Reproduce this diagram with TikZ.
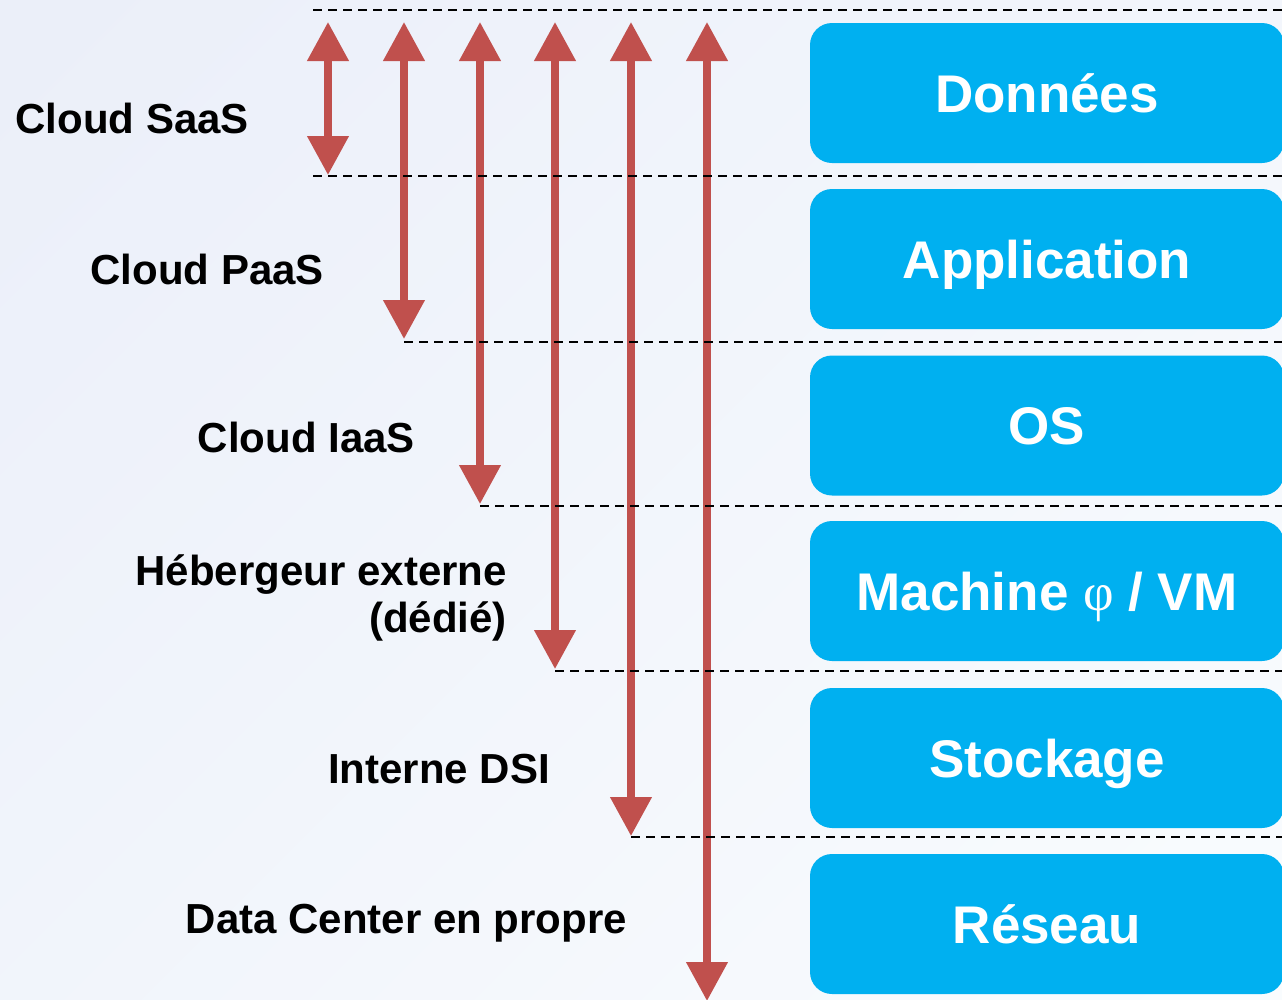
\documentclass[tikz,border=0pt]{standalone}
\usepackage{fontspec}
\setmainfont{Liberation Sans}
\newfontfamily\phifont{Liberation Serif}
\usetikzlibrary{arrows.meta}
\definecolor{bgA}{HTML}{EBEFF9}
\definecolor{bgB}{HTML}{F9FCFE}
\definecolor{layerblue}{HTML}{00B0F0}
\definecolor{arrowred}{HTML}{C0504D}
\tikzset{
  layer/.style={fill=layerblue, rounded corners=22pt, minimum width=474pt,
    minimum height=140pt, inner sep=0pt, text=white,
    font=\fontsize{53}{53}\selectfont\bfseries, text height=38pt, text depth=0pt},
  lbl/.style={font=\fontsize{42}{42}\selectfont\bfseries, anchor=base east,
    inner sep=0pt, text=black},
  span/.style={draw=arrowred, line width=7.5pt,
    {Triangle[width=40pt,length=39pt]}-{Triangle[width=40pt,length=39pt]}},
  guide/.style={draw=black, line width=1.75pt, dash pattern=on 9pt off 6pt}
}
\begin{document}
\begin{tikzpicture}[x=1pt,y=-1pt]
\useasboundingbox (0,0) rectangle (1282,999);
\clip (0,0) rectangle (1282,999);
\shade[top color=bgA, bottom color=bgB, shading angle=45] (-200,-200) rectangle (1482,1199);

% layer boxes
\node[layer] (donnees) at (1047,93) {Données};
\node[layer] (appli) at (1047,259) {Application};
\node[layer] (os) at (1047,425.5) {OS};
\node[layer] (machine) at (1047,591) {Machine {\phifont\mdseries φ} / VM};
\node[layer] (stockage) at (1047,758) {Stockage};
\node[layer] (reseau) at (1047,924) {Réseau};

% labels
\node[lbl] (saas) at (249,133) {Cloud SaaS};
\node[lbl] (paas) at (324,284) {Cloud PaaS};
\node[lbl] (iaas) at (415,452) {Cloud IaaS};
\node[lbl] (heberg) at (507,585) {Hébergeur externe};
\node[lbl] (dedie) at (507,632) {(dédié)};
\node[lbl] (dsi) at (550,783) {Interne DSI};
\node[lbl] (dc) at (627,933) {Data Center en propre};

% arrow end points
\coordinate (t1) at (328,22);  \coordinate (b1) at (328,175);
\coordinate (t2) at (404,22);  \coordinate (b2) at (404,339);
\coordinate (t3) at (480,22);  \coordinate (b3) at (480,504);
\coordinate (t4) at (555,22);  \coordinate (b4) at (555,669);
\coordinate (t5) at (631,22);  \coordinate (b5) at (631,836);
\coordinate (t6) at (707,22);  \coordinate (b6) at (707,1001);

\draw[span] (t1) -- (b1);
\draw[span] (t2) -- (b2);
\draw[span] (t3) -- (b3);
\draw[span] (t4) -- (b4);
\draw[span] (t5) -- (b5);
\draw[span] (t6) -- (b6);

% dashed guides
\coordinate (g0s) at (313,10);  \coordinate (g0e) at (1282,10);
\coordinate (g1s) at (313,176); \coordinate (g1e) at (1282,176);
\coordinate (g2s) at (404,342); \coordinate (g2e) at (1282,342);
\coordinate (g3s) at (480,506); \coordinate (g3e) at (1282,506);
\coordinate (g4s) at (555,671); \coordinate (g4e) at (1282,671);
\coordinate (g5s) at (631,837); \coordinate (g5e) at (1282,837);
\draw[guide] (g0s) -- (g0e);
\draw[guide] (g1s) -- (g1e);
\draw[guide] (g2s) -- (g2e);
\draw[guide] (g3s) -- (g3e);
\draw[guide] (g4s) -- (g4e);
\draw[guide] (g5s) -- (g5e);
\end{tikzpicture}
\end{document}
